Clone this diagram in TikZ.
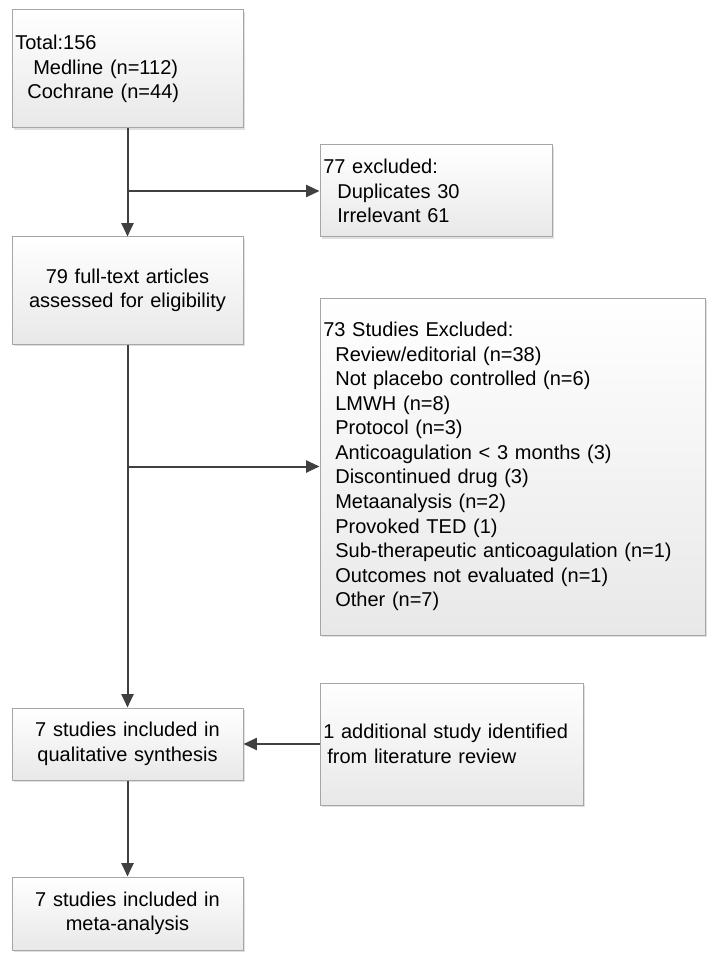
\documentclass[tikz,border=0pt]{standalone}
\usepackage{fontspec}
\setmainfont{Liberation Sans}
\usetikzlibrary{arrows.meta,shadows}

\begin{document}
\begin{tikzpicture}[x=0.75pt,y=-0.75pt,
  box/.style={draw=black!35,line width=0.75pt,top color=white,bottom color=black!9,
    drop shadow={shadow xshift=1.5pt,shadow yshift=-1.5pt,fill=black!35,opacity=0.35},
    inner xsep=2.5pt,inner ysep=0pt,font=\fontsize{15}{18.4}\selectfont},
  leftbox/.style={box,align=left},
  midbox/.style={box,align=center},
  flow/.style={draw=black!75,line width=1.5pt,-{Triangle[length=10pt,width=9pt]}}]

\useasboundingbox (0,0) rectangle (720,962) ;

% colonne principale

\node[leftbox,text width=168.25pt,minimum height=88.5pt] (total) at (127.5,69)
  {Total:156\\\hspace*{13.5pt}Medline (n=112)\\\hspace*{9pt}Cochrane (n=44)} ;
\node[midbox,text width=168.25pt,minimum height=80.25pt] (fulltext) at (127.5,290.5)
  {79 full-text articles\\assessed for eligibility} ;
\node[midbox,text width=168.25pt,minimum height=54pt] (qualit) at (127.5,744)
  {7 studies included in\\qualitative synthesis} ;
\node[midbox,text width=168.25pt,minimum height=54.75pt] (meta) at (127.5,913.5)
  {7 studies included in\\meta-analysis} ;

% boites de droite

\node[leftbox,text width=169pt,minimum height=69pt] (excl1) at (436,191)
  {77 excluded:\\\hspace*{10.5pt}Duplicates 30\\\hspace*{10.5pt}Irrelevant 61} ;
\node[leftbox,text width=283.75pt,minimum height=252.75pt] (excl2) at (512.5,466.5)
  {73 Studies Excluded:\\
   \hspace*{9pt}Review/editorial (n=38)\\
   \hspace*{9pt}Not placebo controlled (n=6)\\
   \hspace*{9pt}LMWH (n=8)\\
   \hspace*{9pt}Protocol (n=3)\\
   \hspace*{9pt}Anticoagulation < 3 months (3)\\
   \hspace*{9pt}Discontinued drug (3)\\
   \hspace*{9pt}Metaanalysis (n=2)\\
   \hspace*{9pt}Provoked TED (1)\\
   \hspace*{9pt}Sub-therapeutic anticoagulation (n=1)\\
   \hspace*{9pt}Outcomes not evaluated (n=1)\\
   \hspace*{9pt}Other (n=7)} ;
\node[leftbox,text width=192.25pt,minimum height=91.5pt] (extra) at (451.5,744)
  {1 additional study identified\\\hspace*{3pt}from literature review} ;

% fleches

\coordinate (split1) at (total.south |- excl1.west) ;
\coordinate (split2) at (fulltext.south |- excl2.west) ;

\draw[flow] (total.south) -- (fulltext.north) ;
\draw[flow] (split1) -- (excl1.west) ;
\draw[flow] (fulltext.south) -- (qualit.north) ;
\draw[flow] (split2) -- (excl2.west) ;
\draw[flow] (extra.west) -- (qualit.east) ;
\draw[flow] (qualit.south) -- (meta.north) ;

\end{tikzpicture}
\end{document}
